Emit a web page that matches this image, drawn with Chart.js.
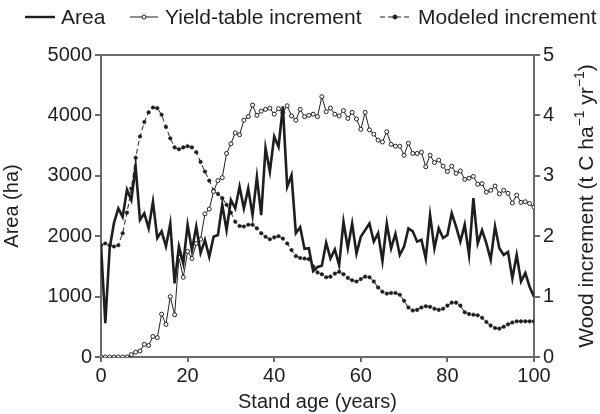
<!DOCTYPE html>
<html>
<head>
<meta charset="utf-8">
<script src="https://cdn.jsdelivr.net/npm/chart.js@4.4.0/dist/chart.umd.min.js"></script>
<style>
  html, body { margin: 0; padding: 0; background: #fff; }
</style>
</head>
<body>
<canvas id="chart" width="600" height="414"></canvas>
<script>
// stand age, years 0..100
const ages = [];
for (let i = 0; i <= 100; i++) ages.push(i);

// Area (ha), left axis
const area = [
  1850, 560, 1800, 2220, 2460, 2320, 2770, 2600, 3150, 2270,
  2380, 2130, 2570, 1970, 2080, 1830, 2210, 1220, 1830, 1550,
  2190, 1770, 2160, 1720, 1940, 1660, 1990, 2020, 2520, 2100,
  2600, 2460, 2820, 2460, 2790, 2350, 2980, 2350, 3460, 3070,
  3650, 3480, 4150, 2820, 3010, 2050, 2150, 1790, 1800, 1420,
  1490, 1510, 1890, 1630, 1780, 1520, 2240, 1800, 2210, 1710,
  1990, 2100, 2210, 1910, 2050, 1590, 2210, 1800, 2040, 1690,
  1830, 2130, 2080, 1910, 1940, 1630, 2350, 1800, 2130, 1970,
  2020, 2380, 2160, 1910, 2190, 1690, 2630, 1880, 2100, 1880,
  1610, 2160, 1800, 1690, 1740, 1300, 1690, 1250, 1390, 1160,
  1000
];

// yield-table increment (t C / ha / yr), right axis
const yieldInc = [
  0, 0, 0, 0, 0, 0, 0, 0.04, 0.08, 0.10,
  0.21, 0.19, 0.34, 0.32, 0.71, 0.54, 1.00, 0.70, 1.65, 1.32,
  1.75, 1.63, 1.88, 1.95, 2.37, 2.45, 2.74, 2.92, 2.97, 3.37,
  3.53, 3.71, 3.68, 3.92, 3.98, 4.17, 4.00, 4.07, 4.10, 4.12,
  4.02, 4.11, 4.05, 4.16, 3.99, 3.92, 4.10, 3.98, 4.00, 4.02,
  3.98, 4.31, 4.06, 4.12, 4.02, 3.99, 4.08, 3.95, 4.05, 3.94,
  3.77, 4.05, 3.76, 3.69, 3.59, 3.56, 3.73, 3.52, 3.49, 3.49,
  3.34, 3.54, 3.37, 3.37, 3.39, 3.15, 3.34, 3.22, 3.26, 3.16,
  3.07, 3.16, 3.04, 3.08, 2.94, 2.96, 2.99, 2.86, 2.87, 2.73,
  2.76, 2.83, 2.70, 2.76, 2.71, 2.55, 2.68, 2.56, 2.57, 2.54,
  2.48
];

// modeled increment (t C / ha / yr), right axis
const modeledInc = [
  1.85, 1.88, 1.85, 1.83, 1.85, 2.05, 2.39, 2.79, 3.30, 3.65,
  3.89, 4.05, 4.13, 4.12, 4.01, 3.81, 3.62, 3.47, 3.44, 3.47,
  3.49, 3.47, 3.39, 3.23, 3.07, 2.92, 2.76, 2.70, 2.63, 2.52,
  2.39, 2.24, 2.17, 2.16, 2.19, 2.19, 2.13, 2.05, 1.99, 1.95,
  1.98, 2.00, 1.96, 1.88, 1.77, 1.67, 1.64, 1.63, 1.62, 1.50,
  1.40, 1.37, 1.32, 1.33, 1.38, 1.41, 1.37, 1.31, 1.27, 1.25,
  1.29, 1.33, 1.32, 1.25, 1.15, 1.08, 1.05, 1.06, 1.06, 1.03,
  0.93, 0.82, 0.77, 0.78, 0.82, 0.84, 0.83, 0.80, 0.78, 0.80,
  0.85, 0.90, 0.90, 0.85, 0.74, 0.71, 0.70, 0.69, 0.65, 0.58,
  0.52, 0.48, 0.47, 0.50, 0.54, 0.57, 0.59, 0.59, 0.59, 0.59,
  0.59
];

const seriesNames = ['Area', 'Yield-table increment', 'Modeled increment'];
const rightTitle = ['Wood increment (t C ha', '\u22121', ' yr', '\u22121', ')'];

const FONT = "'Liberation Sans', Arial, Helvetica, sans-serif";
const INK = '#1e1e1e';
const AXIS = '#6a6a6a';

// legend layout: sample start, sample end, text start
const legendPos = [[25, 55, 61], [130, 158, 165], [380, 410, 418]];

const toPoints = vals => vals.map((v, i) => ({ x: ages[i], y: v }));

// legend row + right axis title (reads bottom to top)
const extras = {
  id: 'extras',
  afterDraw(chart) {
    const ctx = chart.ctx;
    const cy = 17;
    ctx.save();
    chart.data.datasets.forEach((ds, i) => {
      const [x0, x1, tx] = legendPos[i];
      ctx.beginPath();
      ctx.strokeStyle = INK;
      ctx.lineWidth = i === 0 ? 2.4 : 1;
      ctx.setLineDash(ds.borderDash || []);
      ctx.moveTo(x0, cy);
      ctx.lineTo(x1, cy);
      ctx.stroke();
      ctx.setLineDash([]);
      if (i > 0) {
        ctx.beginPath();
        ctx.arc((x0 + x1) / 2, cy, 2, 0, Math.PI * 2);
        ctx.fillStyle = i === 1 ? '#fff' : INK;
        ctx.fill();
        ctx.lineWidth = 1;
        ctx.stroke();
      }
      ctx.fillStyle = INK;
      ctx.font = '21px ' + FONT;
      ctx.textAlign = 'left';
      ctx.textBaseline = 'middle';
      ctx.fillText(ds.label, tx, cy + 1);
    });
    ctx.restore();

    // right title, with superscripts
    ctx.save();
    const box = chart.chartArea;
    ctx.translate(587, (box.top + box.bottom) / 2);
    ctx.rotate(-Math.PI / 2);
    ctx.fillStyle = INK;
    ctx.textBaseline = 'middle';
    ctx.textAlign = 'left';
    const big = '21px ' + FONT, small = '14px ' + FONT;
    let total = 0;
    rightTitle.forEach((s, i) => {
      ctx.font = i % 2 ? small : big;
      total += ctx.measureText(s).width;
    });
    let x = -total / 2;
    rightTitle.forEach((s, i) => {
      ctx.font = i % 2 ? small : big;
      ctx.fillText(s, x, i % 2 ? -7 : 0);
      x += ctx.measureText(s).width;
    });
    ctx.restore();
  }
};

const config = {
  type: 'line',
  data: {
    datasets: [{
      label: seriesNames[0],
      data: toPoints(area),
      yAxisID: 'y',
      borderColor: INK,
      borderWidth: 2.6,
      pointRadius: 0
    }, {
      label: seriesNames[1],
      data: toPoints(yieldInc),
      yAxisID: 'y1',
      borderColor: INK,
      borderWidth: 1,
      pointRadius: 2,
      pointBorderWidth: 1,
      pointBackgroundColor: '#fff',
      pointBorderColor: INK
    }, {
      label: seriesNames[2],
      data: toPoints(modeledInc),
      yAxisID: 'y1',
      borderColor: INK,
      borderWidth: 1,
      borderDash: [5, 3],
      pointRadius: 1.8,
      pointBorderWidth: 0.5,
      pointBackgroundColor: INK,
      pointBorderColor: INK
    }]
  },
  options: {
    responsive: false,
    animation: false,
    layout: { padding: { top: 37, left: 0, right: 0, bottom: 0 } },
    plugins: {
      tooltip: { enabled: false },
      legend: { display: false }
    },
    scales: {
      x: {
        type: 'linear',
        min: 0,
        max: 100,
        ticks: { stepSize: 20, color: INK, padding: 2, font: { family: FONT, size: 20 } },
        grid: { drawOnChartArea: false, color: AXIS, lineWidth: 2, tickLength: 5 },
        border: { color: AXIS, width: 2 },
        title: { display: true, text: 'Stand age (years)', color: INK, padding: 0, font: { family: FONT, size: 20 } },
        afterFit: s => { s.height = 57; }
      },
      xTop: {
        type: 'linear',
        position: 'top',
        min: 0,
        max: 100,
        ticks: { display: false },
        grid: { display: false },
        border: { color: AXIS, width: 2 },
        afterFit: s => { s.height = 18; }
      },
      y: {
        position: 'left',
        min: 0,
        max: 5000,
        ticks: { stepSize: 1000, color: INK, padding: 3, font: { family: FONT, size: 20 }, callback: v => String(v) },
        grid: { drawOnChartArea: false, color: AXIS, lineWidth: 2, tickLength: 6 },
        border: { color: AXIS, width: 2 },
        title: { display: true, text: 'Area (ha)', color: INK, padding: 0, font: { family: FONT, size: 20 } },
        afterFit: s => { s.width = 101; }
      },
      y1: {
        position: 'right',
        min: 0,
        max: 5,
        ticks: { stepSize: 1, color: INK, padding: 3, font: { family: FONT, size: 20 }, callback: v => String(v) },
        grid: { drawOnChartArea: false, color: AXIS, lineWidth: 2, tickLength: 6 },
        border: { color: AXIS, width: 2 },
        afterFit: s => { s.width = 66; }
      }
    }
  },
  plugins: [extras]
};

const ctx = document.getElementById('chart').getContext('2d');
const myChart = new Chart(ctx, config);
</script>
</body>
</html>
